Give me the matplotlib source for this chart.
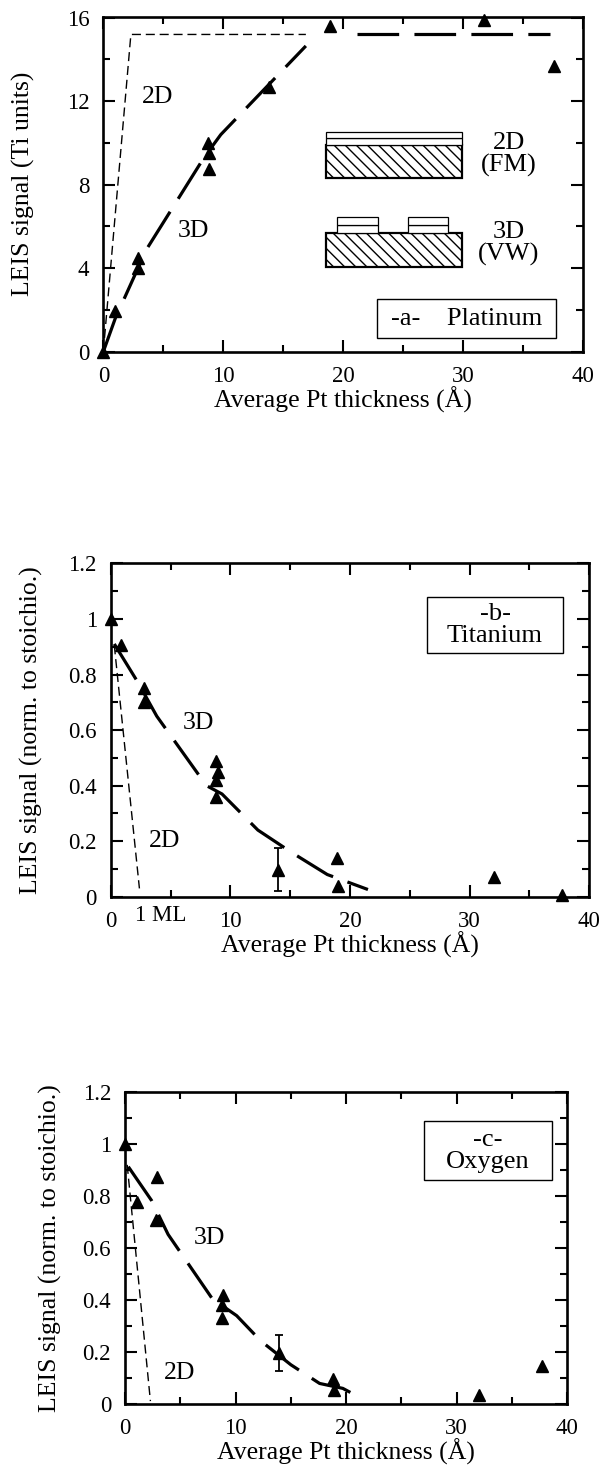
import numpy as np
import matplotlib
matplotlib.use('Agg')
import matplotlib.pyplot as plt
from matplotlib.patches import Rectangle
from matplotlib.ticker import MultipleLocator, FormatStrFormatter

plt.rcParams['font.family'] = ['Liberation Serif', 'DejaVu Serif']
plt.rcParams['lines.scale_dashes'] = False
plt.rcParams['hatch.linewidth'] = 1.0

# =============================================================================
# DATA
# =============================================================================

# -a- Platinum
PT_X = [0.0, 1.0, 2.9, 2.9, 8.7, 8.8, 8.8, 13.8, 18.9, 31.8, 37.6]
PT_Y = [0.0, 1.95, 4.5, 4.0, 10.0, 9.5, 8.75, 12.7, 15.6, 15.9, 13.7]
PT_3D_X = [0.0, 1.0, 3.6, 8.4, 9.8, 16.9]
PT_3D_Y = [0.0, 1.6, 4.9, 9.3, 10.4, 14.65]
PT_SAT_X = [21.2, 37.3]
PT_SAT_Y = [15.2, 15.2]
PT_2D_X = [0.0, 2.3, 16.9]
PT_2D_Y = [0.0, 15.2, 15.2]

# -b- Titanium
TI_X = [0.0, 0.9, 2.8, 2.8, 8.8, 9.0, 8.8, 8.8, 14.0, 18.9, 19.0, 32.0, 37.7]
TI_Y = [1.0, 0.905, 0.75, 0.70, 0.49, 0.45, 0.42, 0.36, 0.098, 0.14, 0.038, 0.07, 0.005]
TI_ERR = [0, 0, 0, 0, 0, 0, 0, 0, 0.078, 0, 0, 0, 0]
TI_3D_X = [0.3, 2.3, 3.85, 8.0, 9.3, 12.3, 15.1, 18.1, 21.5]
TI_3D_Y = [0.91, 0.77, 0.65, 0.40, 0.37, 0.24, 0.16, 0.08, 0.026]
TI_2D_X = [0.3, 2.4]
TI_2D_Y = [0.905, 0.03]

# -c- Oxygen
O_X = [0.0, 1.1, 2.9, 2.8, 8.9, 8.8, 8.8, 13.9, 18.8, 18.9, 32.0, 37.7]
O_Y = [1.0, 0.776, 0.874, 0.707, 0.417, 0.382, 0.329, 0.196, 0.094, 0.052, 0.035, 0.145]
O_ERR = [0, 0, 0, 0, 0, 0, 0, 0.07, 0, 0, 0, 0]
O_3D_X = [0.3, 2.4, 3.9, 7.9, 10.1, 12.3, 15.0, 17.6, 19.7, 21.4]
O_3D_Y = [0.913, 0.783, 0.652, 0.404, 0.339, 0.241, 0.15, 0.078, 0.059, 0.02]
O_2D_X = [0.2, 2.3]
O_2D_Y = [0.92, 0.01]

XLABEL = 'Average Pt thickness (Å)'
YLABEL_A = 'LEIS signal (Ti units)'
YLABEL_BC = 'LEIS signal (norm. to stoichio.)'

# =============================================================================

LABEL_FS = 18.5
TICK_FS = 16.5
TEXT_FS = 18.5
BOX_FS = 19

THICK = dict(color='black', lw=2.3, dashes=(30, 11), solid_capstyle='butt')
THIN = dict(color='black', lw=1.0, dashes=(6.5, 3.5))
MARK = dict(ls='none', marker='^', ms=9, color='black', clip_on=False, zorder=5)


def style_axes(ax, ymax, ymajor, yminor, yfmt):
    ax.set_xlim(0, 40)
    ax.set_ylim(0, ymax)
    ax.xaxis.set_major_locator(MultipleLocator(10))
    ax.xaxis.set_minor_locator(MultipleLocator(5))
    ax.yaxis.set_major_locator(MultipleLocator(ymajor))
    ax.yaxis.set_minor_locator(MultipleLocator(yminor))
    ax.yaxis.set_major_formatter(FormatStrFormatter(yfmt))
    ax.tick_params(which='both', direction='in', top=True, right=True,
                   width=1.5, labelsize=TICK_FS, pad=10)
    ax.tick_params(which='major', length=8.5)
    ax.tick_params(which='minor', length=5)
    for sp in ax.spines.values():
        sp.set_linewidth(1.9)
    ax.set_xlabel(XLABEL, fontsize=LABEL_FS, labelpad=0)
    ax.yaxis.set_label_coords(-0.142, 0.5)


def label_box(ax, x0, y0, x1, y1, text, tx, ty):
    ax.add_patch(Rectangle((x0, y0), x1 - x0, y1 - y0, transform=ax.transAxes,
                           fc='white', ec='black', lw=1.0, zorder=3))
    ax.text(tx, ty, text, transform=ax.transAxes, ha='center', va='center',
            fontsize=BOX_FS, linespacing=1.0, zorder=4)


def growth_sketch(ax):
    """Schematic of 2D (Frank-van der Merwe) and 3D (Volmer-Weber) growth."""
    tr = ax.transAxes
    hatch = '\\\\\\'
    # 2D (FM): substrate with two flat layers
    ax.add_patch(Rectangle((0.465, 0.518), 0.284, 0.099, transform=tr,
                           fc='white', ec='black', lw=1.6, hatch=hatch))
    ax.add_patch(Rectangle((0.465, 0.617), 0.284, 0.020, transform=tr,
                           fc='white', ec='black', lw=0.9))
    ax.add_patch(Rectangle((0.465, 0.637), 0.284, 0.020, transform=tr,
                           fc='white', ec='black', lw=0.9))
    # 3D (VW): substrate with islands
    ax.add_patch(Rectangle((0.465, 0.254), 0.284, 0.099, transform=tr,
                           fc='white', ec='black', lw=1.6, hatch=hatch))
    for xi in (0.488, 0.635):
        ax.add_patch(Rectangle((xi, 0.353), 0.085, 0.025, transform=tr,
                               fc='white', ec='black', lw=0.9))
        ax.add_patch(Rectangle((xi, 0.378), 0.085, 0.025, transform=tr,
                               fc='white', ec='black', lw=0.9))
    ax.text(0.846, 0.588, '2D\n(FM)', transform=tr, ha='center', va='center',
            fontsize=BOX_FS, linespacing=1.0)
    ax.text(0.846, 0.322, '3D\n(VW)', transform=tr, ha='center', va='center',
            fontsize=BOX_FS, linespacing=1.0)


def points(ax, x, y, err=None):
    x = np.asarray(x)
    y = np.asarray(y)
    ax.plot(x, y, **MARK)
    if err is not None:
        err = np.asarray(err)
        m = err > 0
        ax.errorbar(x[m], y[m], yerr=err[m], fmt='none', ecolor='black',
                    elinewidth=1.3, capsize=3, capthick=1.3, zorder=4)


def main():
    fig = plt.figure(figsize=(6.0, 14.66), dpi=100)

    # ---- -a- Platinum
    ax1 = fig.add_axes([0.1722, 0.7601, 0.799, 0.2285])
    style_axes(ax1, 16.05, 4, 2, '%g')
    ax1.set_ylabel(YLABEL_A, fontsize=LABEL_FS)
    ax1.plot(PT_2D_X, PT_2D_Y, **THIN)
    ax1.plot(PT_3D_X, PT_3D_Y, **THICK)
    ax1.plot(PT_SAT_X, PT_SAT_Y, **THICK)
    points(ax1, PT_X, PT_Y)
    ax1.text(4.5, 12.2, '2D', fontsize=TEXT_FS, ha='center', va='center')
    ax1.text(7.5, 5.8, '3D', fontsize=TEXT_FS, ha='center', va='center')
    growth_sketch(ax1)
    label_box(ax1, 0.57, 0.04, 0.945, 0.156, '-a-    Platinum', 0.757, 0.097)

    # ---- -b- Titanium
    ax2 = fig.add_axes([0.1845, 0.3883, 0.7977, 0.2274])
    style_axes(ax2, 1.2, 0.2, 0.1, '%g')
    ax2.set_ylabel(YLABEL_BC, fontsize=LABEL_FS)
    ax2.plot(TI_2D_X, TI_2D_Y, **THIN)
    ax2.plot(TI_3D_X, TI_3D_Y, **THICK)
    points(ax2, TI_X, TI_Y, TI_ERR)
    ax2.text(7.3, 0.625, '3D', fontsize=TEXT_FS, ha='center', va='center')
    ax2.text(4.5, 0.20, '2D', fontsize=TEXT_FS, ha='center', va='center')
    ax2.text(2.0, -0.055, '1 ML', transform=ax2.get_xaxis_transform(),
             fontsize=TICK_FS, ha='left', va='center')
    label_box(ax2, 0.66, 0.731, 0.945, 0.898, '-b-\nTitanium', 0.803, 0.815)

    # ---- -c- Oxygen
    ax3 = fig.add_axes([0.2083, 0.0425, 0.7372, 0.2125])
    style_axes(ax3, 1.2, 0.2, 0.1, '%g')
    ax3.set_ylabel(YLABEL_BC, fontsize=LABEL_FS)
    ax3.plot(O_2D_X, O_2D_Y, **THIN)
    ax3.plot(O_3D_X, O_3D_Y, **THICK)
    points(ax3, O_X, O_Y, O_ERR)
    ax3.text(7.6, 0.637, '3D', fontsize=TEXT_FS, ha='center', va='center')
    ax3.text(4.95, 0.117, '2D', fontsize=TEXT_FS, ha='center', va='center')
    label_box(ax3, 0.675, 0.7175, 0.965, 0.9075, '-c-\nOxygen', 0.82, 0.8125)

    fig.savefig('out.png', dpi=100)
    plt.close(fig)


if __name__ == '__main__':
    main()
